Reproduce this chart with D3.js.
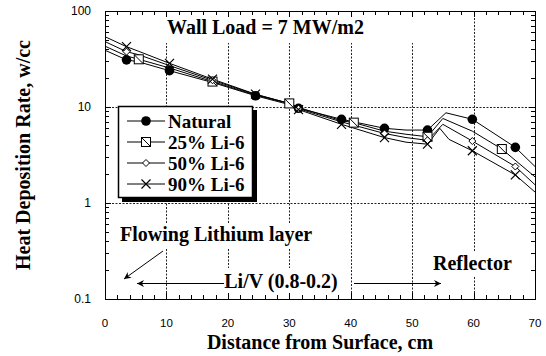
<!DOCTYPE html>
<html>
<head>
<meta charset="utf-8">
<script src="https://cdn.jsdelivr.net/npm/d3@7"></script>
<style>
  html, body { margin: 0; padding: 0; background: #fff; }
  svg { display: block; }
</style>
</head>
<body>
<svg id="chart" width="546" height="356"></svg>
<script>
// ---- data ----
const seriesNames = ["Natural", "25% Li-6", "50% Li-6", "90% Li-6"];
const xNatural = [0, 3.5, 5.5, 10.5, 17.5, 24.5, 30, 31.5, 38.5, 45.5, 49, 52.5, 55.5, 59.8, 66.8, 70];
const yNatural = [39, 31, 29.5, 23.9, 18, 13.1, 10.6, 9.7, 7.45, 6.0, 5.75, 5.75, 8.7, 7.45, 3.8, 2.4];
const mNatural = [3.5, 10.5, 24.5, 31.5, 38.5, 45.5, 52.5, 59.8, 66.8];
const x25 = [0, 3.5, 5.5, 10.5, 17.5, 24.5, 30, 31.5, 38.5, 40.5, 45.5, 49, 52.5, 55, 59.8, 64.6, 70];
const y25 = [43, 34, 31.4, 25.5, 18.4, 13.3, 10.9, 9.9, 7.2, 6.87, 5.6, 5.2, 4.9, 7.6, 5.6, 3.65, 1.87];
const m25 = [5.5, 17.5, 30, 40.5, 52.5, 64.6];
const x50 = [0, 3.5, 5.5, 10.5, 17.5, 24.5, 30, 31.5, 38.5, 45.5, 49, 52.5, 55, 59.8, 66.8, 70];
const y50 = [48, 37.7, 35, 27, 19, 13.5, 10.9, 9.6, 7.0, 5.3, 4.8, 4.5, 6.6, 4.42, 2.4, 1.55];
const m50 = [3.5, 17.5, 31.5, 45.5, 52.5, 59.8, 66.8];
const x90 = [0, 3.5, 5.5, 10.5, 17.5, 24.5, 30, 31.5, 38.5, 45.5, 49, 52.5, 54.5, 56, 59.8, 66.8, 70];
const y90 = [54, 42.5, 38, 28.5, 19.5, 13.6, 10.9, 9.4, 6.6, 4.8, 4.3, 4.1, 6.0, 4.6, 3.5, 1.96, 1.3];
const m90 = [3.5, 10.5, 17.5, 24.5, 31.5, 38.5, 45.5, 52.5, 59.8, 66.8];
const markerTypes = ["circle", "square", "diamond", "cross"];

const xTicks = [0, 10, 20, 30, 40, 50, 60, 70];
const yTicks = [0.1, 1, 10, 100];
const yTickLabels = ["0.1", "1", "10", "100"];

const xTitle = "Distance from Surface, cm";
const yTitle = "Heat Deposition Rate, w/cc";
const noteTitle = "Wall Load = 7 MW/m2";
const noteFlow = "Flowing Lithium layer";
const noteLiV = "Li/V (0.8-0.2)";
const noteRefl = "Reflector";

// ---- layout ----
const L = 105, R = 535, T = 11, B = 299;
const svg = d3.select("#chart");
const x = d3.scaleLinear().domain([0, 70]).range([L, R]);
const y = d3.scaleLog().domain([0.1, 100]).range([B, T]);

const serif = "'Liberation Serif', 'Times New Roman', serif";
const sans = "'Liberation Sans', Arial, sans-serif";

// gridlines
const grid = svg.append("g").attr("stroke", "#222").attr("stroke-width", 1).attr("stroke-dasharray", "2,1.5");
xTicks.filter(d => d > 0 && d < 70).forEach(d => {
  grid.append("line").attr("x1", Math.round(x(d)) + 0.5).attr("x2", Math.round(x(d)) + 0.5).attr("y1", T).attr("y2", B);
});
yTicks.filter(d => d > 0.1 && d < 100).forEach(d => {
  grid.append("line").attr("y1", Math.round(y(d)) + 0.5).attr("y2", Math.round(y(d)) + 0.5).attr("x1", L).attr("x2", R);
});

// white backgrounds for annotation texts
const bg = svg.append("g").attr("fill", "#fff");
bg.append("rect").attr("x", 160).attr("y", T + 1).attr("width", 262).attr("height", 31);
bg.append("rect").attr("x", 116).attr("y", 223).attr("width", 204).attr("height", 25);
bg.append("rect").attr("x", 223).attr("y", 268).attr("width", 118).attr("height", 25);
bg.append("rect").attr("x", 428).attr("y", 251).attr("width", 90).attr("height", 25);

// axis ticks (inward, both sides)
const tk = svg.append("g").attr("stroke", "#000").attr("stroke-width", 1);
d3.range(0, 71, 2).forEach(d => {
  const len = d % 10 === 0 ? 6 : 4;
  const px = Math.round(x(d)) + 0.5;
  tk.append("line").attr("x1", px).attr("x2", px).attr("y1", B).attr("y2", B - len);
  tk.append("line").attr("x1", px).attr("x2", px).attr("y1", T).attr("y2", T + len);
});
[0.1, 1, 10].forEach(dec => {
  d3.range(1, 10).forEach(k => {
    const v = dec * k;
    const len = k === 1 ? 6 : 4;
    const py = Math.round(y(v)) + 0.5;
    tk.append("line").attr("y1", py).attr("y2", py).attr("x1", L).attr("x2", L + len);
    tk.append("line").attr("y1", py).attr("y2", py).attr("x1", R).attr("x2", R - len);
  });
});

// frame
svg.append("rect").attr("x", L + 0.5).attr("y", T + 0.5).attr("width", R - L).attr("height", B - T)
  .attr("fill", "none").attr("stroke", "#000").attr("stroke-width", 1);

// tick labels
svg.append("g").selectAll("text").data(xTicks).join("text")
  .attr("x", d => x(d)).attr("y", 327).attr("text-anchor", "middle")
  .attr("font-family", sans).attr("font-size", 11.5).text(d => d);
svg.append("g").selectAll("text").data(yTicks).join("text")
  .attr("x", 91).attr("y", d => y(d) + 4).attr("text-anchor", "end")
  .attr("font-family", sans).attr("font-size", 12).text((d, i) => yTickLabels[i]);

// axis titles
svg.append("text").attr("x", (L + R) / 2).attr("y", 349).attr("text-anchor", "middle")
  .attr("font-family", serif).attr("font-weight", "bold").attr("font-size", 20).text(xTitle);
svg.append("text").attr("transform", `translate(30,${(T + B) / 2}) rotate(-90)`).attr("text-anchor", "middle")
  .attr("font-family", serif).attr("font-weight", "bold").attr("font-size", 20).text(yTitle);

// series
const series = [
  { xs: xNatural, ys: yNatural, ms: mNatural },
  { xs: x25, ys: y25, ms: m25 },
  { xs: x50, ys: y50, ms: m50 },
  { xs: x90, ys: y90, ms: m90 }
];
const line = d3.line().x(d => x(d[0])).y(d => y(d[1]));

function drawMarker(g, type, cx, cy) {
  if (type === "circle") {
    g.append("circle").attr("cx", cx).attr("cy", cy).attr("r", 4.8).attr("fill", "#000");
  } else if (type === "square") {
    const s = 4.5;
    g.append("rect").attr("x", cx - s).attr("y", cy - s).attr("width", 2 * s).attr("height", 2 * s)
      .attr("fill", "#fff").attr("stroke", "#000").attr("stroke-width", 1);
    g.append("line").attr("x1", cx - s).attr("y1", cy - s).attr("x2", cx + s).attr("y2", cy + s)
      .attr("stroke", "#000").attr("stroke-width", 1);
  } else if (type === "diamond") {
    const s = 3.5;
    g.append("path").attr("d", `M${cx},${cy - s}L${cx + s},${cy}L${cx},${cy + s}L${cx - s},${cy}Z`)
      .attr("fill", "#fff").attr("stroke", "#000").attr("stroke-width", 1);
  } else {
    const s = 4.5;
    g.append("path").attr("d", `M${cx - s},${cy - s}L${cx + s},${cy + s}M${cx - s},${cy + s}L${cx + s},${cy - s}`)
      .attr("fill", "none").attr("stroke", "#000").attr("stroke-width", 1.2);
  }
}

const plot = svg.append("g");
series.forEach((s, i) => {
  const pts = s.xs.map((v, j) => [v, s.ys[j]]);
  plot.append("path").datum(pts).attr("d", line).attr("fill", "none").attr("stroke", "#000").attr("stroke-width", 1);
});
series.forEach((s, i) => {
  const g = plot.append("g");
  s.xs.forEach((v, j) => {
    if (s.ms.includes(v)) drawMarker(g, markerTypes[i], x(v), y(s.ys[j]));
  });
});

// title note
svg.append("text").attr("x", 167).attr("y", 34).attr("font-family", serif).attr("font-weight", "bold")
  .attr("font-size", 20).text(noteTitle);

// legend
const lg = svg.append("g");
lg.append("rect").attr("x", 122).attr("y", 110).attr("width", 135).attr("height", 92).attr("fill", "#000");
lg.append("rect").attr("x", 118.5).attr("y", 106.5).attr("width", 134).attr("height", 91)
  .attr("fill", "#fff").attr("stroke", "#000").attr("stroke-width", 1.5);
seriesNames.forEach((name, i) => {
  const cy = 121 + i * 21;
  lg.append("line").attr("x1", 127).attr("x2", 165).attr("y1", cy).attr("y2", cy).attr("stroke", "#000");
  drawMarker(lg, markerTypes[i], 146, cy);
  lg.append("text").attr("x", 168).attr("y", cy + 7).attr("font-family", serif).attr("font-weight", "bold")
    .attr("font-size", 19).text(name);
});

// annotations
svg.append("defs").append("marker").attr("id", "ah").attr("viewBox", "0 0 10 10").attr("refX", 10).attr("refY", 5)
  .attr("markerWidth", 10).attr("markerHeight", 7).attr("markerUnits", "userSpaceOnUse").attr("orient", "auto")
  .append("path").attr("d", "M0,0L10,5L0,10L3,5Z").attr("fill", "#000");

svg.append("text").attr("x", 120).attr("y", 241).attr("font-family", serif).attr("font-weight", "bold")
  .attr("font-size", 20).text(noteFlow);
svg.append("line").attr("x1", 163).attr("y1", 251).attr("x2", 124).attr("y2", 279)
  .attr("stroke", "#000").attr("stroke-width", 1).attr("marker-end", "url(#ah)");

svg.append("text").attr("x", 281).attr("y", 288).attr("text-anchor", "middle").attr("font-family", serif)
  .attr("font-weight", "bold").attr("font-size", 20).text(noteLiV);
svg.append("line").attr("x1", 224).attr("y1", 283.5).attr("x2", 137).attr("y2", 283.5)
  .attr("stroke", "#000").attr("stroke-width", 1).attr("marker-end", "url(#ah)");
svg.append("line").attr("x1", 354).attr("y1", 283.5).attr("x2", 441).attr("y2", 283.5)
  .attr("stroke", "#000").attr("stroke-width", 1).attr("marker-end", "url(#ah)");

svg.append("text").attr("x", 433).attr("y", 270).attr("font-family", serif).attr("font-weight", "bold")
  .attr("font-size", 20).text(noteRefl);
</script>
</body>
</html>
